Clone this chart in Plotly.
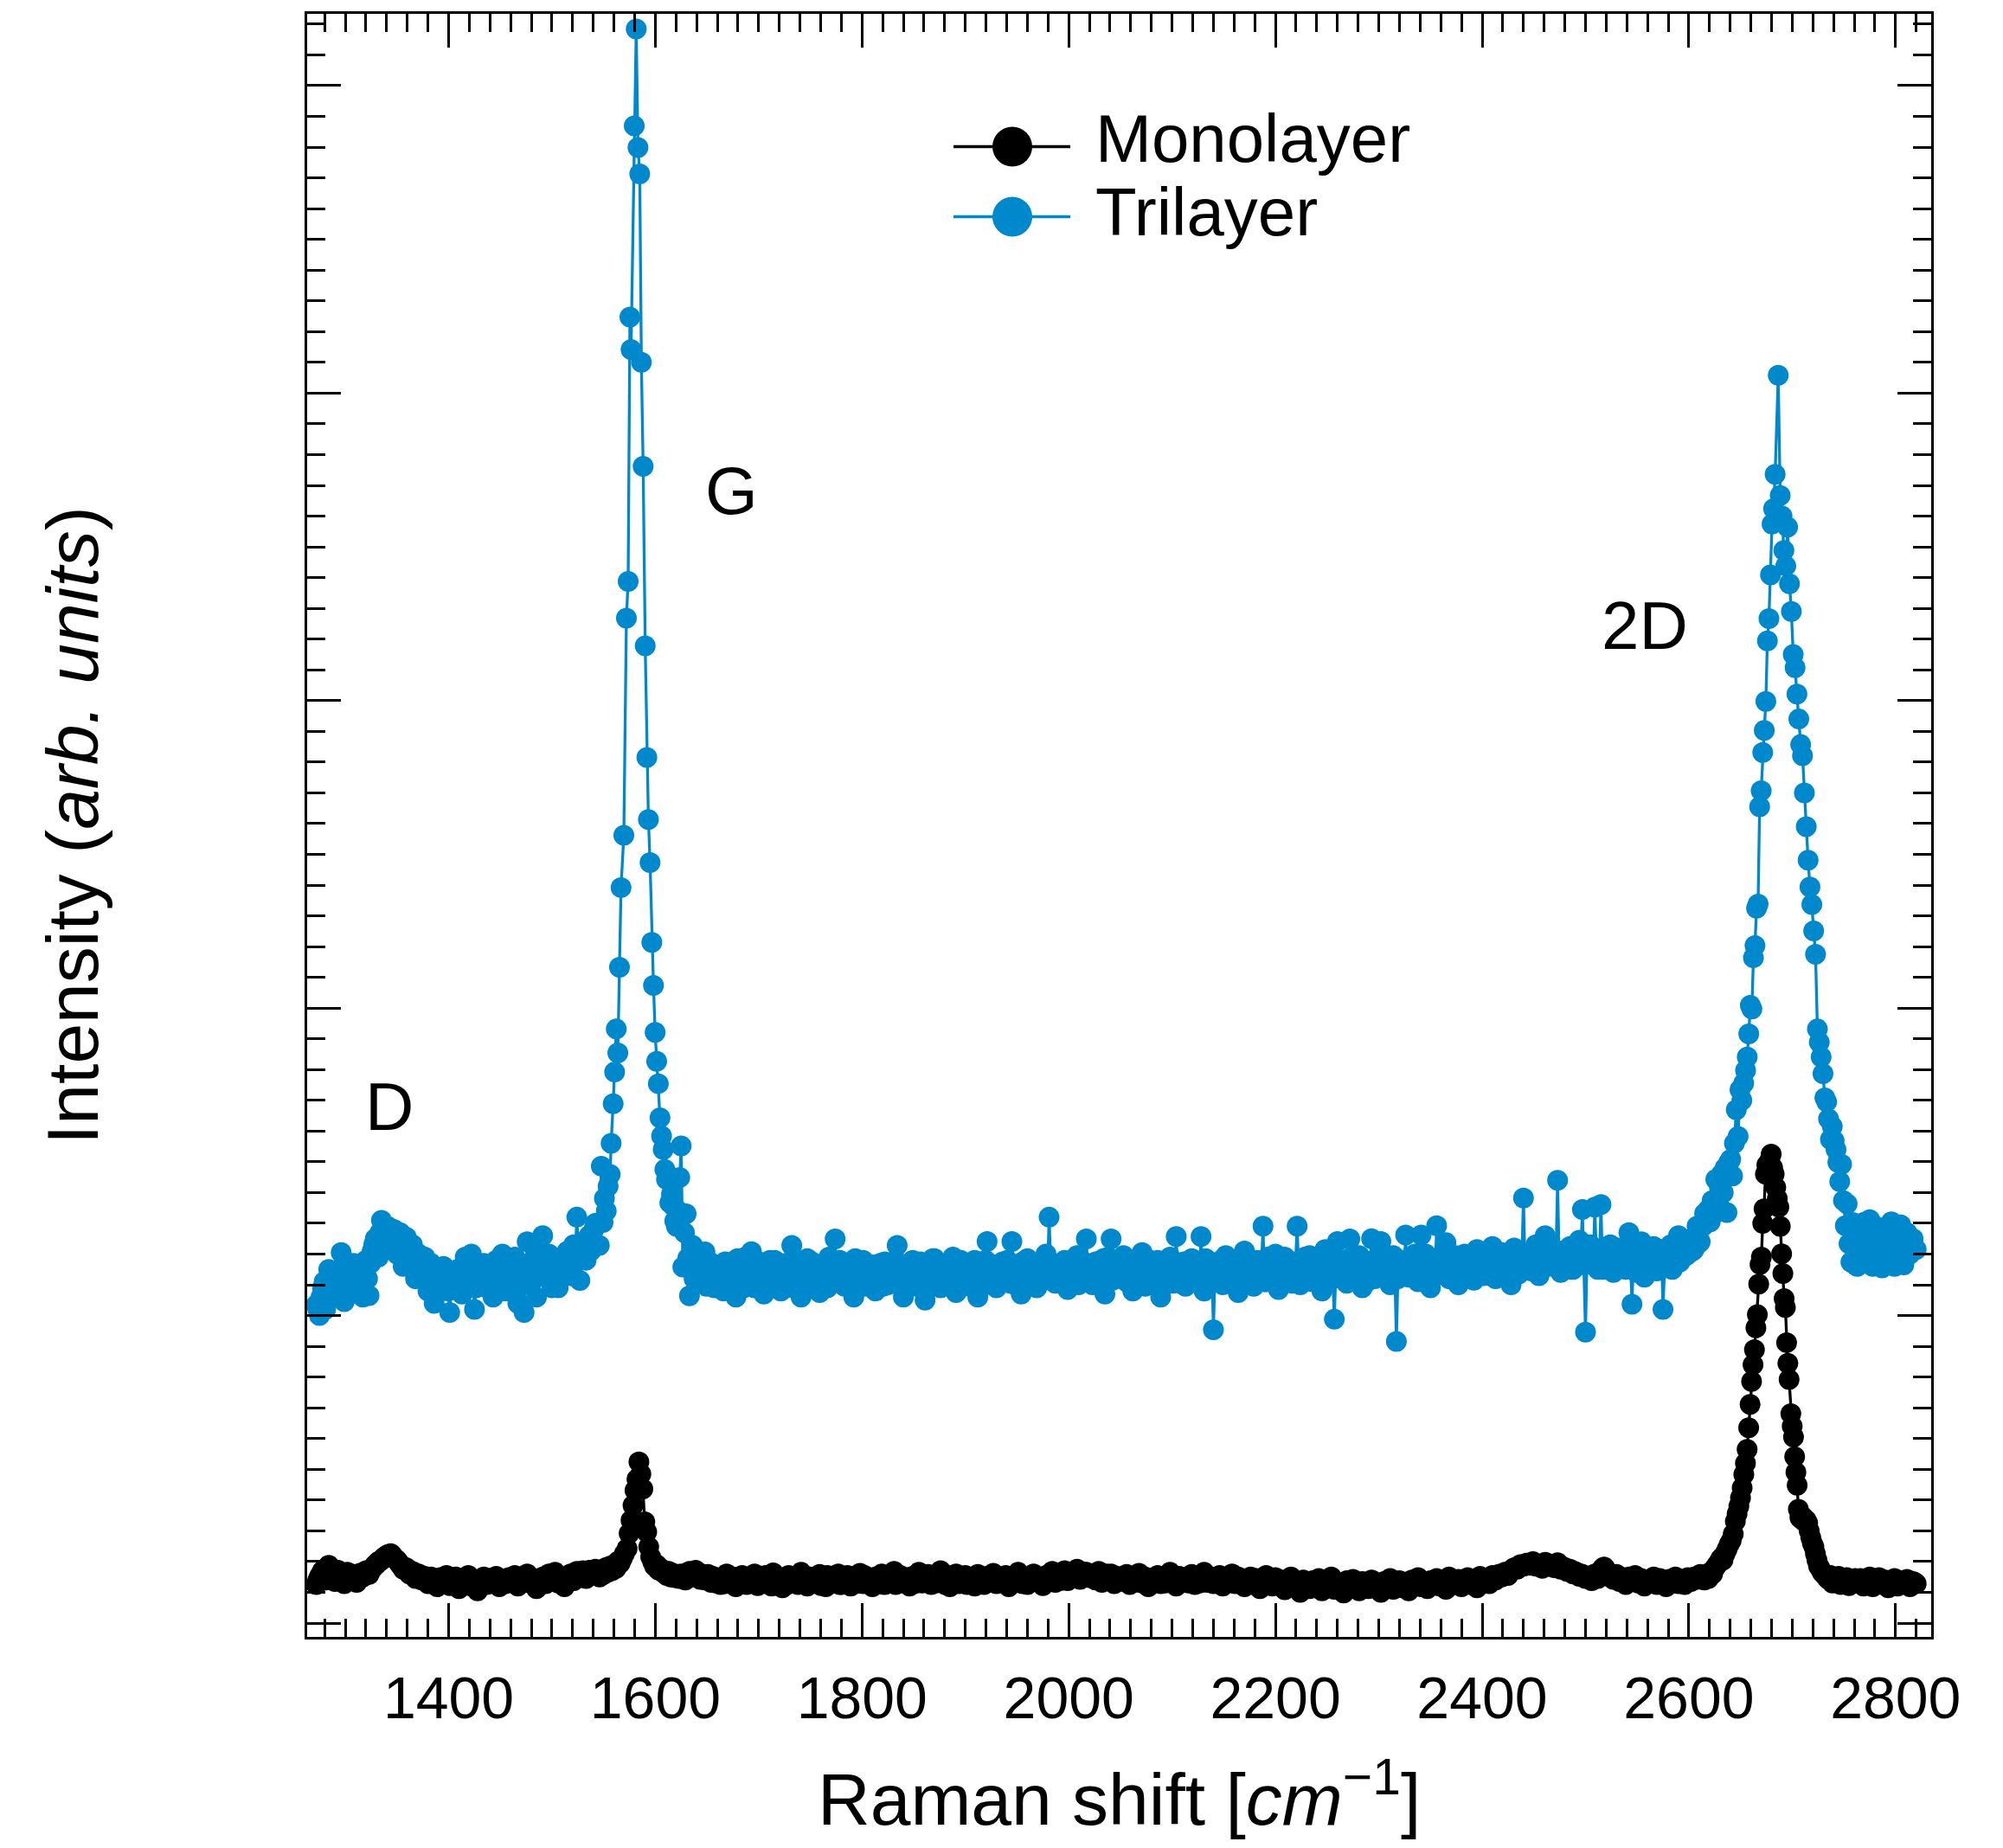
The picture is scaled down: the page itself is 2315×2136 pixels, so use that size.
import plotly.graph_objects as go

FONT = "Liberation Sans, Arial, Helvetica, sans-serif"
BLUE = "#0088CC"

# ---------------- data (Raman shift in cm^-1, intensity in arb. units) ----------------
# shared sampling of the flat regions (two interleaved read-outs)
x_left = [1272, 1275, 1278, 1281, 1284, 1287, 1290, 1293, 1296, 1299,
          1302, 1305, 1308, 1311, 1314, 1317, 1320, 1323, 1326, 1329,
          1332, 1335, 1338, 1341, 1344, 1347, 1350, 1353, 1356, 1359,
          1362, 1365, 1368, 1371, 1374, 1377, 1380, 1383, 1386, 1389,
          1392, 1395, 1398, 1401, 1404, 1407, 1410, 1413, 1416, 1419,
          1422, 1425, 1428, 1431, 1434, 1437, 1440, 1443, 1446, 1449,
          1452, 1455, 1458, 1461, 1464, 1467, 1470, 1473, 1476, 1479,
          1482, 1485, 1488, 1491, 1494, 1497, 1500, 1503, 1506, 1509,
          1512, 1515, 1518, 1521, 1524, 1527, 1530, 1533, 1536, 1539,
          1542]
x_left2 = [1273.5, 1276.5, 1279.5, 1282.5, 1285.5, 1288.5, 1291.5, 1294.5, 1297.5, 1300.5,
           1303.5, 1306.5, 1309.5, 1312.5, 1315.5, 1318.5, 1321.5, 1324.5, 1327.5, 1330.5,
           1333.5, 1336.5, 1339.5, 1342.5, 1345.5, 1348.5, 1351.5, 1354.5, 1357.5, 1360.5,
           1363.5, 1366.5, 1369.5, 1372.5, 1375.5, 1378.5, 1381.5, 1384.5, 1387.5, 1390.5,
           1393.5, 1396.5, 1399.5, 1402.5, 1405.5, 1408.5, 1411.5, 1414.5, 1417.5, 1420.5,
           1423.5, 1426.5, 1429.5, 1432.5, 1435.5, 1438.5, 1441.5, 1444.5, 1447.5, 1450.5,
           1453.5, 1456.5, 1459.5, 1462.5, 1465.5, 1468.5, 1471.5, 1474.5, 1477.5, 1480.5,
           1483.5, 1486.5, 1489.5, 1492.5, 1495.5, 1498.5, 1501.5, 1504.5, 1507.5, 1510.5,
           1513.5, 1516.5, 1519.5, 1522.5, 1525.5, 1528.5, 1531.5, 1534.5, 1537.5, 1540.5]

x_mid = [1633, 1636, 1639, 1642, 1645, 1648, 1651, 1654, 1657, 1660,
         1663, 1666, 1669, 1672, 1675, 1678, 1681, 1684, 1687, 1690,
         1693, 1696, 1699, 1702, 1705, 1708, 1711, 1714, 1717, 1720,
         1723, 1726, 1729, 1732, 1735, 1738, 1741, 1744, 1747, 1750,
         1753, 1756, 1759, 1762, 1765, 1768, 1771, 1774, 1777, 1780,
         1783, 1786, 1789, 1792, 1795, 1798, 1801, 1804, 1807, 1810,
         1813, 1816, 1819, 1822, 1825, 1828, 1831, 1834, 1837, 1840,
         1843, 1846, 1849, 1852, 1855, 1858, 1861, 1864, 1867, 1870,
         1873, 1876, 1879, 1882, 1885, 1888, 1891, 1894, 1897, 1900,
         1903, 1906, 1909, 1912, 1915, 1918, 1921, 1924, 1927, 1930,
         1933, 1936, 1939, 1942, 1945, 1948, 1951, 1954, 1957, 1960,
         1963, 1966, 1969, 1972, 1975, 1978, 1981, 1984, 1987, 1990,
         1993, 1996, 1999, 2002, 2005, 2008, 2011, 2014, 2017, 2020,
         2023, 2026, 2029, 2032, 2035, 2038, 2041, 2044, 2047, 2050,
         2053, 2056, 2059, 2062, 2065, 2068, 2071, 2074, 2077, 2080,
         2083, 2086, 2089, 2092, 2095, 2098, 2101, 2104, 2107, 2110,
         2113, 2116, 2119, 2122, 2125, 2128, 2131, 2134, 2137, 2140,
         2143, 2146, 2149, 2152, 2155, 2158, 2161, 2164, 2167, 2170,
         2173, 2176, 2179, 2182, 2185, 2188, 2191, 2194, 2197, 2200,
         2203, 2206, 2209, 2212, 2215, 2218, 2221, 2224, 2227, 2230,
         2233, 2236, 2239, 2242, 2245, 2248, 2251, 2254, 2257, 2260,
         2263, 2266, 2269, 2272, 2275, 2278, 2281, 2284, 2287, 2290,
         2293, 2296, 2299, 2302, 2305, 2308, 2311, 2314, 2317, 2320,
         2323, 2326, 2329, 2332, 2335, 2338, 2341, 2344, 2347, 2350,
         2353, 2356, 2359, 2362, 2365, 2368, 2371, 2374, 2377, 2380,
         2383, 2386, 2389, 2392, 2395, 2398, 2401, 2404, 2407, 2410,
         2413, 2416, 2419, 2422, 2425, 2428, 2431, 2434, 2437, 2440,
         2443, 2446, 2449, 2452, 2455, 2458, 2461, 2464, 2467, 2470,
         2473, 2476, 2479, 2482, 2485, 2488, 2491, 2494, 2497, 2500,
         2503, 2506, 2509, 2512, 2515, 2518, 2521, 2524, 2527, 2530,
         2533, 2536, 2539, 2542, 2545, 2548, 2551, 2554, 2557, 2560,
         2563, 2566, 2569, 2572, 2575, 2578, 2581, 2584, 2587, 2590,
         2593, 2596, 2599, 2602, 2605, 2608, 2611]
x_mid2 = [1634.5, 1637.5, 1640.5, 1643.5, 1646.5, 1649.5, 1652.5, 1655.5, 1658.5, 1661.5,
          1664.5, 1667.5, 1670.5, 1673.5, 1676.5, 1679.5, 1682.5, 1685.5, 1688.5, 1691.5,
          1694.5, 1697.5, 1700.5, 1703.5, 1706.5, 1709.5, 1712.5, 1715.5, 1718.5, 1721.5,
          1724.5, 1727.5, 1730.5, 1733.5, 1736.5, 1739.5, 1742.5, 1745.5, 1748.5, 1751.5,
          1754.5, 1757.5, 1760.5, 1763.5, 1766.5, 1769.5, 1772.5, 1775.5, 1778.5, 1781.5,
          1784.5, 1787.5, 1790.5, 1793.5, 1796.5, 1799.5, 1802.5, 1805.5, 1808.5, 1811.5,
          1814.5, 1817.5, 1820.5, 1823.5, 1826.5, 1829.5, 1832.5, 1835.5, 1838.5, 1841.5,
          1844.5, 1847.5, 1850.5, 1853.5, 1856.5, 1859.5, 1862.5, 1865.5, 1868.5, 1871.5,
          1874.5, 1877.5, 1880.5, 1883.5, 1886.5, 1889.5, 1892.5, 1895.5, 1898.5, 1901.5,
          1904.5, 1907.5, 1910.5, 1913.5, 1916.5, 1919.5, 1922.5, 1925.5, 1928.5, 1931.5,
          1934.5, 1937.5, 1940.5, 1943.5, 1946.5, 1949.5, 1952.5, 1955.5, 1958.5, 1961.5,
          1964.5, 1967.5, 1970.5, 1973.5, 1976.5, 1979.5, 1982.5, 1985.5, 1988.5, 1991.5,
          1994.5, 1997.5, 2000.5, 2003.5, 2006.5, 2009.5, 2012.5, 2015.5, 2018.5, 2021.5,
          2024.5, 2027.5, 2030.5, 2033.5, 2036.5, 2039.5, 2042.5, 2045.5, 2048.5, 2051.5,
          2054.5, 2057.5, 2060.5, 2063.5, 2066.5, 2069.5, 2072.5, 2075.5, 2078.5, 2081.5,
          2084.5, 2087.5, 2090.5, 2093.5, 2096.5, 2099.5, 2102.5, 2105.5, 2108.5, 2111.5,
          2114.5, 2117.5, 2120.5, 2123.5, 2126.5, 2129.5, 2132.5, 2135.5, 2138.5, 2141.5,
          2144.5, 2147.5, 2150.5, 2153.5, 2156.5, 2159.5, 2162.5, 2165.5, 2168.5, 2171.5,
          2174.5, 2177.5, 2180.5, 2183.5, 2186.5, 2189.5, 2192.5, 2195.5, 2198.5, 2201.5,
          2204.5, 2207.5, 2210.5, 2213.5, 2216.5, 2219.5, 2222.5, 2225.5, 2228.5, 2231.5,
          2234.5, 2237.5, 2240.5, 2243.5, 2246.5, 2249.5, 2252.5, 2255.5, 2258.5, 2261.5,
          2264.5, 2267.5, 2270.5, 2273.5, 2276.5, 2279.5, 2282.5, 2285.5, 2288.5, 2291.5,
          2294.5, 2297.5, 2300.5, 2303.5, 2306.5, 2309.5, 2312.5, 2315.5, 2318.5, 2321.5,
          2324.5, 2327.5, 2330.5, 2333.5, 2336.5, 2339.5, 2342.5, 2345.5, 2348.5, 2351.5,
          2354.5, 2357.5, 2360.5, 2363.5, 2366.5, 2369.5, 2372.5, 2375.5, 2378.5, 2381.5,
          2384.5, 2387.5, 2390.5, 2393.5, 2396.5, 2399.5, 2402.5, 2405.5, 2408.5, 2411.5,
          2414.5, 2417.5, 2420.5, 2423.5, 2426.5, 2429.5, 2432.5, 2435.5, 2438.5, 2441.5,
          2444.5, 2447.5, 2450.5, 2453.5, 2456.5, 2459.5, 2462.5, 2465.5, 2468.5, 2471.5,
          2474.5, 2477.5, 2480.5, 2483.5, 2486.5, 2489.5, 2492.5, 2495.5, 2498.5, 2501.5,
          2504.5, 2507.5, 2510.5, 2513.5, 2516.5, 2519.5, 2522.5, 2525.5, 2528.5, 2531.5,
          2534.5, 2537.5, 2540.5, 2543.5, 2546.5, 2549.5, 2552.5, 2555.5, 2558.5, 2561.5,
          2564.5, 2567.5, 2570.5, 2573.5, 2576.5, 2579.5, 2582.5, 2585.5, 2588.5, 2591.5,
          2594.5, 2597.5, 2600.5, 2603.5, 2606.5, 2609.5]

x_right = [2763, 2766, 2769, 2772, 2775, 2778, 2781, 2784, 2787, 2790,
           2793, 2796, 2799, 2802, 2805, 2808, 2811, 2814, 2817, 2820]
x_right2 = [2764.5, 2767.5, 2770.5, 2773.5, 2776.5, 2779.5, 2782.5, 2785.5, 2788.5, 2791.5,
            2794.5, 2797.5, 2800.5, 2803.5, 2806.5, 2809.5, 2812.5, 2815.5, 2818.5]

# ---- Monolayer ----
mono_y_left = [125, 151, 170, 140, 188, 160, 135, 172, 150, 128,
               165, 145, 158, 132, 162, 150, 170, 158, 178, 190,
               200, 205, 215, 222, 226, 212, 205, 190, 175, 180,
               160, 168, 145, 160, 140, 152, 128, 150, 135, 118,
               148, 130, 155, 122, 140, 150, 112, 145, 130, 155,
               120, 140, 105, 135, 150, 125, 145, 130, 152, 118,
               140, 128, 148, 135, 155, 120, 150, 138, 160, 130,
               145, 112, 140, 150, 128, 160, 140, 165, 130, 150,
               118, 145, 160, 138, 168, 150, 170, 145, 172, 160,
               175]
mono_y_left2 = [140, 160, 155, 165, 170, 148, 155, 160, 140, 145,
                152, 150, 145, 150, 155, 160, 165, 170, 182, 192,
                202, 210, 218, 224, 220, 208, 198, 185, 178, 170,
                165, 155, 150, 148, 145, 140, 140, 138, 132, 135,
                138, 142, 135, 132, 145, 130, 128, 138, 142, 135,
                128, 125, 140, 142, 135, 138, 140, 142, 135, 130,
                135, 140, 145, 140, 138, 135, 145, 148, 142, 140,
                130, 128, 145, 140, 145, 150, 152, 148, 140, 135,
                132, 150, 150, 155, 158, 160, 158, 162, 165, 170]

mono_x_G = [1544, 1546, 1548, 1550, 1552, 1554, 1556, 1558, 1560, 1562,
            1564, 1566, 1568, 1570, 1572.7, 1574.6, 1576.5, 1578.4, 1580.3, 1582.2,
            1584.1, 1586.0, 1587.9, 1589.8, 1591.7, 1593.6, 1595.5, 1597.4, 1599.3, 1601.2,
            1603.1, 1605, 1607, 1609, 1611, 1613, 1615, 1617, 1619, 1621,
            1623, 1625, 1627, 1629, 1631]
mono_y_G = [165, 150, 172, 158, 180, 165, 185, 170, 190, 178,
            201, 195, 210, 225, 242, 291, 334, 383, 431, 468,
            524, 485, 436, 329, 296, 248, 215, 200, 185, 190,
            172, 178, 165, 170, 155, 168, 150, 162, 148, 158,
            145, 160, 150, 140, 155]

mono_y_mid = [168, 155, 172, 148, 160, 140, 158, 132, 150, 145,
              125, 148, 160, 135, 150, 118, 142, 155, 130, 147,
              138, 160, 122, 145, 152, 128, 140, 163, 132, 148,
              115, 142, 155, 130, 150, 125, 165, 138, 120, 150,
              140, 128, 158, 135, 118, 150, 142, 130, 160, 125,
              145, 155, 120, 148, 135, 162, 128, 150, 140, 118,
              150, 138, 160, 125, 145, 132, 168, 142, 155, 130,
              148, 120, 152, 140, 165, 130, 145, 158, 125, 150,
              138, 170, 132, 150, 118, 145, 160, 128, 142, 155,
              130, 148, 120, 158, 140, 125, 152, 135, 162, 128,
              145, 132, 155, 118, 148, 140, 165, 130, 150, 125,
              142, 160, 135, 148, 122, 155, 140, 168, 132, 150,
              145, 170, 138, 162, 150, 175, 142, 158, 165, 148,
              155, 140, 168, 132, 150, 145, 160, 128, 152, 140,
              135, 158, 125, 148, 140, 162, 130, 150, 118, 145,
              140, 155, 128, 150, 135, 165, 142, 120, 152, 138,
              148, 130, 158, 125, 145, 140, 165, 132, 150, 128,
              142, 155, 120, 148, 135, 160, 128, 150, 140, 118,
              135, 150, 125, 145, 112, 140, 155, 130, 120, 148,
              128, 140, 108, 135, 150, 118, 132, 100, 140, 125,
              112, 138, 120, 145, 105, 130, 122, 150, 110, 132,
              125, 98, 138, 115, 142, 120, 105, 135, 128, 112,
              140, 118, 130, 100, 135, 122, 145, 110, 128, 138,
              115, 132, 105, 140, 125, 148, 118, 130, 112, 138,
              128, 145, 120, 135, 110, 150, 130, 125, 142, 118,
              135, 148, 125, 140, 115, 152, 132, 145, 128, 155,
              140, 158, 150, 165, 155, 172, 180, 175, 190, 185,
              195, 188, 200, 185, 192, 178, 198, 185, 190, 180,
              196, 175, 182, 168, 175, 160, 165, 152, 158, 145,
              150, 138, 160, 145, 170, 182, 165, 150, 142, 158,
              135, 148, 125, 150, 138, 155, 130, 145, 120, 140,
              132, 150, 125, 145, 138, 118, 142, 130, 150, 128,
              140, 125, 148, 135, 150, 142, 158]
mono_y_mid2 = [160, 150, 165, 142, 155, 148, 138, 152, 130, 146,
               140, 128, 152, 138, 122, 148, 135, 145, 125, 140,
               150, 132, 142, 128, 155, 138, 120, 150, 140, 132,
               145, 125, 138, 150, 135, 142, 128, 152, 140, 130,
               148, 135, 122, 142, 155, 130, 145, 138, 125, 150,
               132, 142, 150, 128, 140, 135, 155, 138, 125, 145,
               140, 128, 145, 152, 135, 148, 125, 150, 138, 142,
               135, 150, 128, 145, 138, 155, 132, 140, 148, 130,
               150, 140, 125, 155, 138, 130, 148, 142, 135, 125,
               142, 135, 150, 128, 145, 138, 132, 150, 140, 145,
               135, 150, 140, 130, 138, 155, 142, 128, 145, 138,
               150, 140, 148, 132, 140, 138, 158, 145, 150, 138,
               155, 150, 162, 148, 158, 160, 150, 165, 152, 158,
               148, 158, 150, 145, 160, 138, 150, 142, 138, 150,
               145, 138, 140, 132, 150, 142, 138, 135, 140, 132,
               148, 138, 142, 130, 150, 140, 132, 138, 140, 145,
               135, 142, 140, 138, 130, 152, 140, 145, 135, 140,
               148, 130, 138, 140, 145, 135, 142, 138, 128, 135,
               142, 130, 138, 122, 130, 145, 135, 125, 138, 130,
               132, 120, 125, 142, 128, 125, 118, 130, 125, 115,
               128, 122, 135, 118, 125, 118, 138, 125, 122, 118,
               112, 120, 125, 130, 122, 115, 125, 120, 118, 128,
               125, 122, 118, 120, 130, 135, 122, 118, 132, 125,
               122, 118, 125, 130, 138, 128, 125, 122, 128, 130,
               135, 130, 128, 125, 132, 138, 128, 135, 130, 128,
               140, 135, 132, 130, 138, 142, 140, 135, 145, 148,
               150, 155, 160, 158, 165, 175, 178, 182, 188, 190,
               192, 195, 188, 190, 185, 190, 188, 192, 182, 185,
               185, 178, 175, 172, 165, 168, 158, 160, 150, 152,
               145, 150, 152, 158, 178, 175, 158, 148, 150, 145,
               142, 138, 140, 145, 142, 140, 138, 132, 135, 130,
               142, 138, 135, 140, 128, 132, 135, 140, 138, 135,
               132, 138, 142, 140, 145, 148]

mono_x_2D = [2613, 2615, 2617, 2619, 2621, 2623, 2625, 2627, 2629, 2631,
             2633, 2635, 2637, 2639, 2641, 2643, 2645, 2646.7, 2648.4, 2650.0,
             2651.6, 2653.2, 2654.8, 2656.4, 2657.9, 2659.3, 2660.7, 2662.1, 2663.5, 2664.9,
             2666.3, 2667.6, 2668.9, 2670.2, 2671.5, 2672.8, 2674.1, 2675.5, 2676.9, 2678.3,
             2679.7, 2681.1, 2682.6, 2684.1, 2685.6, 2687.1, 2688.5, 2689.8, 2691.0, 2692.2,
             2693.4, 2694.6, 2695.8, 2697.0, 2698.7, 2700.0, 2701.3, 2702.4, 2703.6, 2704.8,
             2706.0, 2707.5, 2709.0, 2710.5, 2712.0, 2713.5, 2715.0, 2716.5, 2718.0, 2719.5,
             2721.0, 2722.5, 2724.0, 2725.5, 2727, 2729, 2731, 2733, 2735, 2737,
             2739, 2741, 2743, 2745, 2747, 2749, 2751, 2753, 2755, 2757,
             2759, 2761]
mono_y_2D = [150, 140, 158, 145, 165, 160, 178, 188, 197, 210,
             205, 225, 240, 256, 268, 290, 331, 355, 380, 407,
             440, 483, 520, 565, 635, 711, 786, 840, 889, 960,
             1003, 1102, 1166, 1190, 1300, 1347, 1460, 1490, 1470, 1505,
             1525, 1481, 1460, 1417, 1380, 1353, 1290, 1201, 1137, 1055,
             1026, 912, 845, 792, 681, 640, 605, 541, 490, 448,
             370, 343, 338, 345, 330, 335, 325, 300, 278, 260,
             248, 225, 205, 186, 178, 165, 158, 150, 142, 155,
             130, 148, 138, 152, 125, 142, 135, 148, 122, 140,
             130, 145]

mono_y_right = [130, 145, 120, 138, 150, 118, 135, 148, 125, 140,
                115, 132, 145, 120, 138, 128, 142, 118, 135, 128]
mono_y_right2 = [138, 132, 128, 145, 135, 128, 140, 138, 130, 132,
                 125, 140, 135, 128, 130, 135, 130, 125, 132]

# ---- Trilayer ----
tri_y_left = [1035, 1000, 1090, 1021, 1150, 1060, 1120, 1070, 1205, 1045,
              1150, 1110, 1170, 1090, 1140, 1060, 1180, 1065, 1210, 1250,
              1190, 1310, 1240, 1290, 1220, 1280, 1200, 1270, 1160, 1255,
              1180, 1230, 1120, 1200, 1150, 1190, 1080, 1170, 1040, 1150,
              1100, 1160, 1120, 1010, 1140, 1090, 1130, 1070, 1190, 1100,
              1200, 1020, 1150, 1110, 1170, 1090, 1140, 1060, 1180, 1100,
              1200, 1080, 1150, 1120, 1190, 1040, 1160, 1010, 1240, 1130,
              1180, 1060, 1220, 1260, 1150, 1200, 1090, 1170, 1090, 1190,
              1140, 1210, 1130, 1230, 1320, 1114, 1240, 1180, 1260, 1250,
              1300]
tri_y_left2 = [1020, 1060, 1110, 1045, 1120, 1090, 1140, 1100, 1160, 1095,
               1130, 1150, 1120, 1160, 1100, 1145, 1120, 1170, 1230, 1210,
               1270, 1255, 1275, 1250, 1260, 1235, 1240, 1220, 1215, 1200,
               1205, 1170, 1180, 1160, 1175, 1130, 1150, 1120, 1100, 1130,
               1140, 1090, 1080, 1120, 1110, 1150, 1100, 1140, 1150, 1130,
               1110, 1090, 1135, 1150, 1120, 1110, 1160, 1120, 1140, 1150,
               1130, 1120, 1170, 1140, 1110, 1130, 1100, 1150, 1170, 1160,
               1120, 1150, 1180, 1200, 1170, 1140, 1130, 1150, 1160, 1170,
               1180, 1160, 1200, 1190, 1220, 1180, 1200, 1230, 1210, 1280]

tri_x_G = [1544, 1545.8, 1547.7, 1549.4, 1550.7, 1552.5, 1554.3, 1556.3, 1557.2, 1559.2,
           1560.6, 1562.2, 1563.7, 1565.3, 1566.8, 1569.5, 1572.0, 1573.7, 1575.4, 1576.5,
           1579.6, 1581.5, 1583.2, 1584.9, 1586.5, 1588.2, 1590.2, 1591.8, 1593.3, 1594.9,
           1596.6, 1598.2, 1599.8, 1601.3, 1602.9, 1604.5, 1606.0, 1607.6, 1609.2, 1610.8,
           1612.4, 1614.0, 1615.6, 1617.2, 1618.8, 1620.4, 1622.0, 1623.6, 1625.0, 1626.6,
           1628.2, 1629.8, 1631.4]
tri_y_G = [1300, 1228, 1486, 1303, 1381, 1340, 1420, 1459, 1560, 1689,
           1792, 1932, 1854, 2133, 2392, 2562, 3268, 3388, 4247, 4142,
           4869, 5184, 4799, 4713, 4100, 3762, 3178, 2815, 2613, 2473,
           2214, 2074, 1921, 1827, 1754, 1643, 1584, 1540, 1475, 1443,
           1457, 1367, 1395, 1357, 1308, 1290, 1341, 1449, 1552, 1158,
           1270, 1331, 1187]

tri_y_mid = [1064, 1228, 1150, 1190, 1105, 1207, 1120, 1170, 1090, 1145,
             1160, 1080, 1140, 1120, 1175, 1060, 1150, 1110, 1190, 1130,
             1208, 1090, 1140, 1165, 1070, 1120, 1180, 1100, 1155, 1125,
             1085, 1170, 1130, 1228, 1110, 1150, 1060, 1140, 1185, 1100,
             1135, 1165, 1075, 1150, 1120, 1190, 1105, 1249, 1130, 1160,
             1095, 1140, 1170, 1060, 1150, 1120, 1180, 1105, 1135, 1165,
             1080, 1145, 1120, 1175, 1100, 1160, 1130, 1228, 1110, 1060,
             1150, 1125, 1180, 1095, 1140, 1170, 1050, 1155, 1115, 1185,
             1130, 1090, 1160, 1140, 1110, 1190, 1075, 1150, 1125, 1170,
             1105, 1145, 1180, 1060, 1155, 1130, 1241, 1115, 1165, 1090,
             1140, 1175, 1120, 1150, 1241, 1100, 1160, 1070, 1135, 1185,
             1115, 1150, 1090, 1170, 1130, 1200, 1320, 1145, 1105, 1160,
             1125, 1180, 1085, 1150, 1135, 1195, 1110, 1165, 1249, 1140,
             1100, 1175, 1130, 1155, 1070, 1190, 1249, 1120, 1160, 1140,
             1195, 1110, 1150, 1080, 1170, 1135, 1205, 1095, 1145, 1165,
             1120, 1180, 1060, 1155, 1140, 1190, 1105, 1257, 1130, 1170,
             1095, 1150, 1185, 1115, 1160, 1257, 1080, 1145, 1175, 954,
             1130, 1165, 1100, 1195, 1140, 1120, 1180, 1075, 1150, 1210,
             1125, 1160, 1095, 1180, 1140, 1291, 1110, 1170, 1135, 1200,
             1085, 1155, 1190, 1120, 1165, 1140, 1291, 1100, 1175, 1130,
             1195, 1110, 1150, 1170, 1080, 1215, 1135, 1160, 988, 1241,
             1140, 1180, 1105, 1249, 1150, 1125, 1195, 1090, 1165, 1140,
             1250, 1120, 1175, 1241, 1130, 1160, 1100, 1195, 916, 1150,
             1180, 1262, 1125, 1165, 1200, 1110, 1262, 1145, 1175, 1090,
             1160, 1292, 1135, 1185, 1237, 1120, 1170, 1195, 1100, 1155,
             1200, 1140, 1180, 1115, 1215, 1165, 1130, 1190, 1150, 1225,
             1120, 1175, 1205, 1145, 1190, 1100, 1220, 1160, 1185, 1382,
             1150, 1200, 1170, 1230, 1130, 1190, 1260, 1160, 1210, 1180,
             1440, 1140, 1200, 1175, 1225, 1150, 1195, 1245, 1345, 946,
             1180, 1215, 1353, 1150, 1361, 1195, 1165, 1230, 1140, 1205,
             1175, 1220, 1150, 1270, 1037, 1190, 1160, 1240, 1125, 1200,
             1170, 1225, 1145, 1195, 1020, 1215, 1180, 1150, 1235, 1260,
             1185, 1230, 1200, 1250, 1215, 1291, 1240]
tri_y_mid2 = [1180, 1120, 1210, 1135, 1160, 1095, 1175, 1130, 1155, 1110,
              1135, 1175, 1100, 1160, 1125, 1185, 1140, 1090, 1165, 1115,
              1150, 1120, 1175, 1095, 1145, 1160, 1110, 1180, 1130, 1080,
              1160, 1115, 1145, 1090, 1170, 1125, 1155, 1105, 1140, 1175,
              1100, 1150, 1125, 1170, 1090, 1140, 1165, 1115, 1180, 1120,
              1155, 1110, 1135, 1185, 1120, 1150, 1095, 1165, 1130, 1145,
              1125, 1170, 1095, 1140, 1160, 1115, 1180, 1135, 1090, 1155,
              1110, 1165, 1140, 1120, 1175, 1100, 1150, 1130, 1185, 1115,
              1160, 1125, 1105, 1170, 1140, 1155, 1115, 1180, 1095, 1145,
              1135, 1170, 1120, 1150, 1095, 1180, 1140, 1160, 1110, 1165,
              1120, 1150, 1180, 1105, 1160, 1135, 1115, 1175, 1145, 1100,
              1165, 1130, 1155, 1110, 1185, 1140, 1170, 1120, 1150, 1135,
              1145, 1110, 1170, 1125, 1160, 1100, 1180, 1135, 1150, 1115,
              1170, 1140, 1105, 1185, 1130, 1155, 1115, 1165, 1140, 1180,
              1125, 1160, 1135, 1175, 1110, 1150, 1120, 1185, 1140, 1100,
              1150, 1135, 1170, 1115, 1180, 1125, 1160, 1140, 1105, 1175,
              1140, 1170, 1120, 1155, 1135, 1100, 1185, 1130, 1160, 1145,
              1115, 1180, 1150, 1125, 1170, 1140, 1105, 1160, 1135, 1185,
              1150, 1120, 1175, 1140, 1165, 1110, 1190, 1145, 1125, 1170,
              1140, 1180, 1125, 1160, 1105, 1175, 1150, 1130, 1190, 1120,
              1165, 1135, 1185, 1115, 1160, 1145, 1175, 1120, 1155, 1180,
              1130, 1170, 1150, 1190, 1120, 1160, 1140, 1180, 1110, 1165,
              1145, 1185, 1125, 1160, 1175, 1135, 1190, 1150, 1120, 1170,
              1155, 1135, 1180, 1145, 1190, 1125, 1165, 1200, 1140, 1175,
              1130, 1185, 1160, 1145, 1195, 1120, 1175, 1150, 1190, 1140,
              1170, 1125, 1195, 1155, 1180, 1140, 1205, 1160, 1130, 1185,
              1165, 1200, 1145, 1185, 1150, 1210, 1170, 1135, 1195, 1160,
              1180, 1145, 1215, 1170, 1195, 1155, 1185, 1225, 1165, 1200,
              1175, 1210, 1160, 1190, 1150, 1220, 1180, 1205, 1165, 1195,
              1230, 1170, 1200, 1185, 1150, 1215, 1175, 1195, 1160, 1220,
              1190, 1155, 1210, 1180, 1200, 1140, 1225, 1175, 1195, 1160,
              1205, 1170, 1190, 1215, 1155, 1200, 1230, 1180, 1210, 1175,
              1220, 1195, 1245, 1210, 1260, 1235]

tri_x_2D = [2613.5, 2615.3, 2617.1, 2618.9, 2620.7, 2622.5, 2624.3, 2626.1, 2627.9, 2629.7,
            2631.5, 2633.3, 2635.1, 2636.9, 2638.7, 2640.5, 2642.3, 2644.1, 2645.9, 2647.7,
            2649.5, 2651.3, 2653.1, 2654.9, 2656.5, 2658.0, 2659.5, 2661.0, 2662.5, 2664.0,
            2665.5, 2667.0, 2668.5, 2670.0, 2671.5, 2673.0, 2674.5, 2676.0, 2677.5, 2679.0,
            2680.5, 2682.0, 2683.5, 2686.5, 2688.4, 2690.2, 2692.0, 2693.8, 2695.6, 2697.4,
            2699.2, 2701.0, 2702.8, 2704.6, 2706.4, 2708.2, 2710.0, 2711.8, 2713.6, 2715.4,
            2717.2, 2719.0, 2720.8, 2722.6, 2724.4, 2726.2, 2728.0, 2729.8, 2731.6, 2733.4,
            2735.2, 2737.0, 2738.8, 2740.6, 2742.4, 2744.2, 2746.0, 2747.8, 2749.6, 2751.4,
            2753.2, 2755.0, 2756.8, 2758.6, 2760.4]
tri_y_2D = [1290, 1332, 1300, 1345, 1305, 1374, 1330, 1443, 1385, 1415,
            1460, 1400, 1480, 1335, 1498, 1508, 1454, 1560, 1669, 1583,
            1735, 1700, 1756, 1797, 1841, 1916, 2009, 1997, 2164, 2203,
            2325, 2338, 2655, 2707, 2831, 2903, 2997, 3194, 3267, 3409,
            3574, 3624, 3736, 4058, 3667, 3600, 3488, 3438, 3564, 3380,
            3290, 3150, 3107, 3021, 2940, 2857, 2821, 2700, 2590, 2481,
            2394, 2337, 2251, 2175, 1932, 1889, 1841, 1787, 1708, 1695,
            1640, 1573, 1615, 1569, 1540, 1498, 1436, 1492, 1374, 1292,
            1363, 1234, 1174, 1303, 1166]

tri_y_right = [1160, 1250, 1303, 1190, 1312, 1160, 1290, 1210, 1155, 1280,
               1175, 1305, 1160, 1230, 1295, 1165, 1270, 1200, 1250, 1215]
tri_y_right2 = [1210, 1280, 1240, 1255, 1230, 1220, 1250, 1180, 1215, 1230,
                1240, 1200, 1255, 1265, 1215, 1225, 1235, 1230, 1220]

series_names = ["Monolayer", "Trilayer"]
peak_labels = ["D", "G", "2D"]
peak_label_x = [1342.7, 1673.8, 2557]
peak_label_y = [1680, 3683, 3243]

assert len(x_left) == len(mono_y_left) == len(tri_y_left)
assert len(x_left2) == len(mono_y_left2) == len(tri_y_left2)
assert len(x_mid) == len(mono_y_mid) == len(tri_y_mid)
assert len(x_mid2) == len(mono_y_mid2) == len(tri_y_mid2)
assert len(x_right) == len(mono_y_right) == len(tri_y_right)
assert len(x_right2) == len(mono_y_right2) == len(tri_y_right2)
assert len(mono_x_G) == len(mono_y_G) and len(tri_x_G) == len(tri_y_G)
assert len(mono_x_2D) == len(mono_y_2D) and len(tri_x_2D) == len(tri_y_2D)


def ordered(xs, ys):
    pairs = sorted(zip(xs, ys))
    return [p[0] for p in pairs], [p[1] for p in pairs]


mono_x, mono_y = ordered(
    x_left + x_left2 + mono_x_G + x_mid + x_mid2 + mono_x_2D + x_right + x_right2,
    mono_y_left + mono_y_left2 + mono_y_G + mono_y_mid + mono_y_mid2 + mono_y_2D
    + mono_y_right + mono_y_right2)
tri_x, tri_y = ordered(
    x_left + x_left2 + tri_x_G + x_mid + x_mid2 + tri_x_2D + x_right + x_right2,
    tri_y_left + tri_y_left2 + tri_y_G + tri_y_mid + tri_y_mid2 + tri_y_2D
    + tri_y_right + tri_y_right2)

# ---------------- figure ----------------
W, H = 2315, 2136
ML, MR, MT, MB = 355, 83, 16, 244
PW, PH = W - ML - MR, H - MT - MB

X_RANGE = [1263.1, 2834.5]
Y_RANGE = [-45, 5233.5]

MARKER = 24
LINE_W = 3.3


def px(xp):
    return (xp - ML) / PW


def py(yp):
    return (H - MB - yp) / PH


fig = go.Figure()
fig.add_trace(go.Scatter(
    x=mono_x, y=mono_y, mode="lines+markers", name=series_names[0],
    line=dict(color="black", width=LINE_W),
    marker=dict(color="black", size=MARKER, line=dict(width=0)),
    showlegend=False))
fig.add_trace(go.Scatter(
    x=tri_x, y=tri_y, mode="lines+markers", name=series_names[1],
    line=dict(color=BLUE, width=LINE_W),
    marker=dict(color=BLUE, size=MARKER, line=dict(width=0)),
    showlegend=False))

tick_common = dict(ticks="inside", tickwidth=3, tickcolor="black",
                   showgrid=False, zeroline=False)

fig.update_layout(
    width=W, height=H,
    margin=dict(l=ML, r=MR, t=MT, b=MB, pad=0, autoexpand=False),
    paper_bgcolor="white", plot_bgcolor="white",
    font=dict(family=FONT, color="black"),
    showlegend=False,
    xaxis=dict(range=X_RANGE, tick0=0, dtick=200, ticklen=39,
               showline=True, linewidth=3, linecolor="black", mirror="allticks",
               tickfont=dict(size=68, family=FONT, color="black"),
               ticklabelstandoff=9, automargin=False,
               minor=dict(tick0=0, dtick=20, ticks="inside", ticklen=21,
                          tickwidth=3, tickcolor="black", showgrid=False),
               **tick_common),
    xaxis2=dict(overlaying="x", anchor="y", range=X_RANGE, tick0=0, dtick=100,
                ticklen=30, showticklabels=False, showline=False, mirror="ticks",
                **tick_common),
    yaxis=dict(range=Y_RANGE, tick0=0, dtick=1000, ticklen=39,
               showline=True, linewidth=3, linecolor="black", mirror="allticks",
               showticklabels=False, automargin=False,
               minor=dict(tick0=0, dtick=100, ticks="inside", ticklen=21,
                          tickwidth=3, tickcolor="black", showgrid=False),
               **tick_common),
    yaxis2=dict(overlaying="y", anchor="x", range=Y_RANGE, tick0=0, dtick=500,
                ticklen=30, showticklabels=False, showline=False, mirror="ticks",
                **tick_common),
)

annotations = []
# axis titles
annotations.append(dict(text="Raman shift [<i>cm</i><sup>\u22121</sup>]",
                        xref="paper", yref="paper", x=0.5, y=py(2074),
                        xanchor="center", yanchor="middle", showarrow=False,
                        font=dict(size=84, family=FONT, color="black")))
annotations.append(dict(text="Intensity (<i>arb. units</i>)",
                        xref="paper", yref="paper", x=px(84), y=0.5,
                        textangle=-90, xanchor="center", yanchor="middle",
                        showarrow=False,
                        font=dict(size=84, family=FONT, color="black")))
# peak labels
for t, xv, yv in zip(peak_labels, peak_label_x, peak_label_y):
    annotations.append(dict(text=t, x=xv, y=yv, xref="x", yref="y",
                            xanchor="center", yanchor="middle", showarrow=False,
                            font=dict(size=78, family=FONT, color="black")))

# hand-drawn legend (large markers as in the reference)
legend_rows = [(169.5, "black", series_names[0], 159.5),
               (250.5, BLUE, series_names[1], 245.0)]
shapes = []
for yline, col, name, ytext in legend_rows:
    shapes.append(dict(type="line", xref="paper", yref="paper",
                       x0=px(1102), x1=px(1237), y0=py(yline), y1=py(yline),
                       line=dict(color=col, width=3.3)))
    shapes.append(dict(type="circle", xref="paper", yref="paper",
                       xsizemode="pixel", ysizemode="pixel",
                       xanchor=px(1170), yanchor=py(yline),
                       x0=-23, x1=23, y0=-23, y1=23,
                       fillcolor=col, line=dict(width=0)))
    annotations.append(dict(text=name, xref="paper", yref="paper",
                            x=px(1264), y=py(ytext), xanchor="left", yanchor="middle",
                            showarrow=False,
                            font=dict(size=78, family=FONT, color="black")))

fig.update_layout(annotations=annotations, shapes=shapes)

fig.write_html("out.html")
